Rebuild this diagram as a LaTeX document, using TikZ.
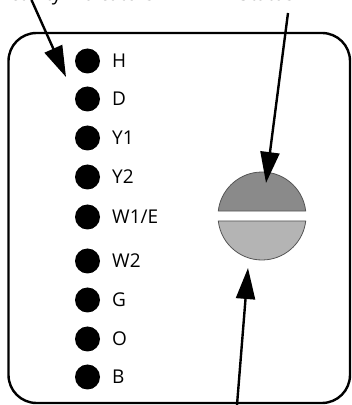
\documentclass[tikz,border=0pt]{standalone}
\usepackage{fontspec}
\setmainfont{Open Sans}
\usetikzlibrary{arrows.meta}
\definecolor{ledtop}{HTML}{8A8A8A}
\definecolor{ledbottom}{HTML}{B4B4B4}
\definecolor{ledrim}{HTML}{555555}
\tikzset{
  wiredot/.style={circle,fill=black,draw=none,inner sep=0pt,minimum size=25pt},
  wirelabel/.style={anchor=base west,inner sep=0pt,font=\fontsize{19}{21}\selectfont},
  pointer/.style={line width=2.4pt,-{Triangle[length=31pt,width=19pt]}},
  callout/.style={anchor=base west,inner sep=0pt,font=\fontsize{19}{21}\selectfont}
}
\newcommand{\ledhalf}[3]{% #1 fill, #2 start angle, #3 end angle
  \draw[ledrim,line width=0.8pt,fill=#1] (262,189) ++(#2:44)
    arc[start angle=#2,end angle=#3,radius=44] -- cycle;
}

\begin{document}
\begin{tikzpicture}[x=1pt,y=1pt]
    \useasboundingbox (0,0) rectangle (352,405);
    \clip (0,0) rectangle (352,405);

    % housing
    \draw[line width=2.4pt,rounded corners=28pt] (8.5,2) rectangle (350,372);

    % texts above the picture, cut by its edge
    \node[callout] (activity) at (-2,404) {Activity Indicators};
    \node[callout] (status) at (239,404) {Status LED};

    % wire terminals
    \foreach \name/\lbl/\y in {h/H/344,d/D/306,ya/Y1/267,yb/Y2/228,we/{W1/E}/188,
                                wb/W2/144,g/G/105,o/O/66,b/B/28}{
      \node[wiredot] (dot-\name) at (87.5,\y) {};
      \node[wirelabel] (lbl-\name) at (112,\y-6.8) {\lbl};
    }

    % two colour LED
    \ledhalf{ledtop}{6.5}{173.5}
    \ledhalf{ledbottom}{186.5}{353.5}
    \node[circle,minimum size=88pt,inner sep=0pt] (led) at (262,189) {};

    % pointers
    \coordinate (from-activity) at (31.5,405);
    \coordinate (to-activity) at (66,328);
    \coordinate (from-status) at (288,392);
    \coordinate (to-top) at (266,222);
    \coordinate (from-bottom) at (237,0);
    \coordinate (to-bottom) at (248,137);
    \draw[pointer] (from-activity) -- (to-activity);
    \draw[pointer] (from-status) -- (to-top);
    \draw[pointer] (from-bottom) -- (to-bottom);
\end{tikzpicture}
\end{document}
